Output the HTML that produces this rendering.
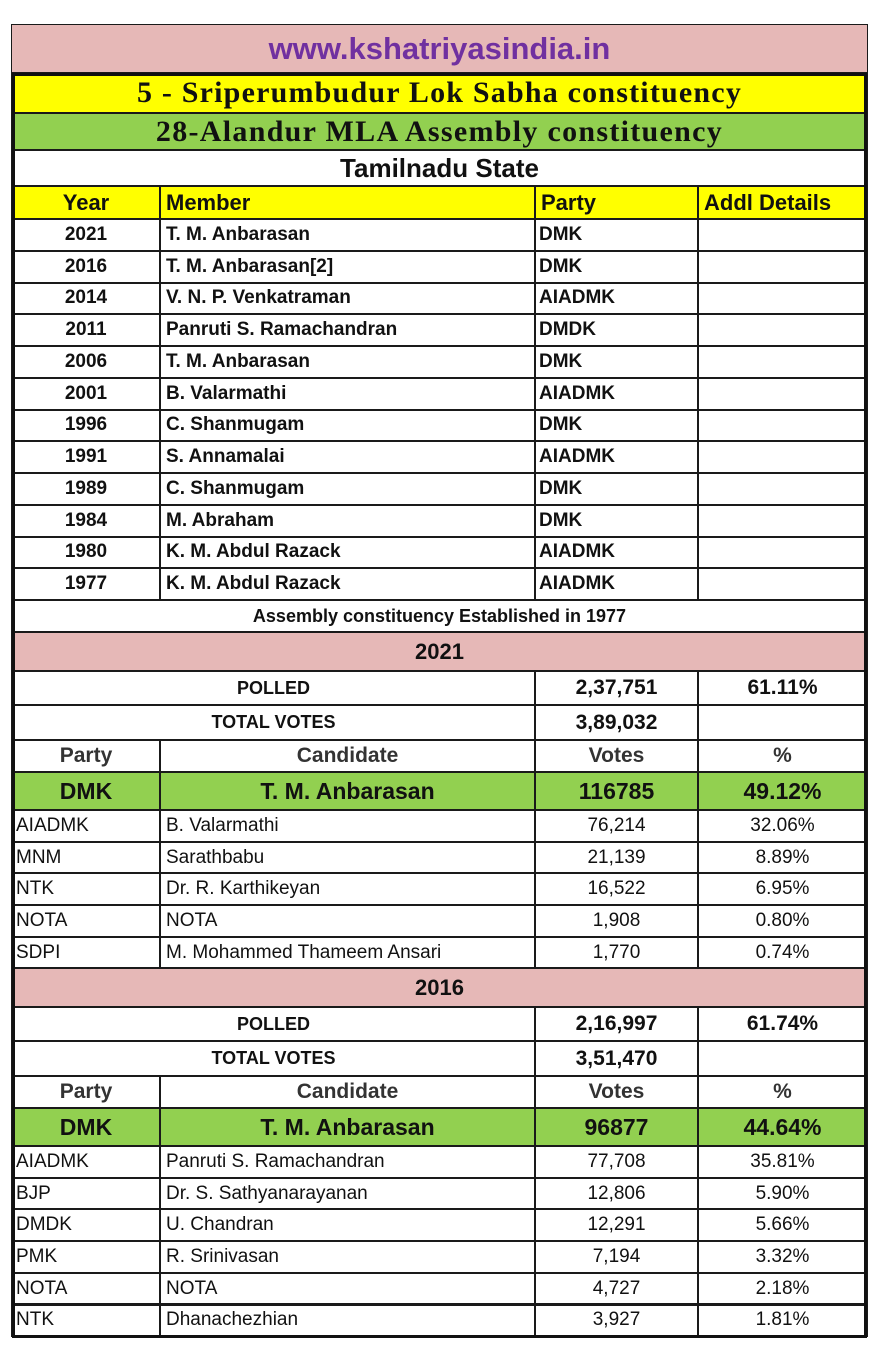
<!DOCTYPE html>
<html><head><meta charset="utf-8"><style>
body{margin:0;width:877px;height:1353px;background:#fff;position:relative;overflow:hidden;font-family:"Liberation Sans",sans-serif;}
.c{position:absolute;box-sizing:border-box;border:2px solid #1a1a1a;display:flex;align-items:center;white-space:nowrap;overflow:hidden;color:#111;}
</style></head><body>
<div id="frame" style="position:absolute;left:12px;top:73px;width:855px;height:1265px;border:3px solid #111;box-sizing:border-box;pointer-events:none;z-index:5"></div>
<script>
const X=[12,160,535,698,867];
const members=[["2021","T. M. Anbarasan","DMK"],["2016","T. M. Anbarasan[2]","DMK"],["2014","V. N. P. Venkatraman","AIADMK"],["2011","Panruti S. Ramachandran","DMDK"],["2006","T. M. Anbarasan","DMK"],["2001","B. Valarmathi","AIADMK"],["1996","C. Shanmugam","DMK"],["1991","S. Annamalai","AIADMK"],["1989","C. Shanmugam","DMK"],["1984","M. Abraham","DMK"],["1980","K. M. Abdul Razack","AIADMK"],["1977","K. M. Abdul Razack","AIADMK"]];
const res2021=[["AIADMK","B. Valarmathi","76,214","32.06%"],["MNM","Sarathbabu","21,139","8.89%"],["NTK","Dr. R. Karthikeyan","16,522","6.95%"],["NOTA","NOTA","1,908","0.80%"],["SDPI","M. Mohammed Thameem Ansari","1,770","0.74%"]];
const res2016=[["AIADMK","Panruti S. Ramachandran","77,708","35.81%"],["BJP","Dr. S. Sathyanarayanan","12,806","5.90%"],["DMDK","U. Chandran","12,291","5.66%"],["PMK","R. Srinivasan","7,194","3.32%"],["NOTA","NOTA","4,727","2.18%"],["NTK","Dhanachezhian","3,927","1.81%"]];
function cell(x0,x1,y0,y1,txt,st,name){
  const d=document.createElement('div');
  d.className='c';
  
  
  d.style.left=(x0-1)+'px';d.style.top=(y0-1)+'px';d.style.width=(x1-x0+2)+'px';d.style.height=(y1-y0+2)+'px';
  d.style.cssText+=st||'';
  d.textContent=txt;
  document.body.appendChild(d);
}
const CEN='justify-content:center;';
const L='padding-left:5px;';
cell(12,867,25,73,'www.kshatriyasindia.in',CEN+'background:#e6b8b7;color:#7030a0;font-weight:bold;font-size:31px;border-width:1px;','site-title');
cell(12,867,73,113,'5 - Sriperumbudur Lok Sabha constituency',CEN+'background:#ffff00;font-family:"Liberation Serif",serif;font-weight:bold;font-size:30px;letter-spacing:1.2px;','lok-sabha-title');
cell(12,867,113,150,'28-Alandur MLA Assembly constituency',CEN+'background:#92d050;font-family:"Liberation Serif",serif;font-weight:bold;font-size:30px;letter-spacing:1.3px;','assembly-title');
cell(12,867,150,186,'Tamilnadu State',CEN+'font-weight:bold;font-size:26px;','state-title');
const hs='background:#ffff00;font-weight:bold;font-size:22px;';
cell(X[0],X[1],186,219,'Year',CEN+hs,'year-header');
cell(X[1],X[2],186,219,'Member',L+hs,'member-header');
cell(X[2],X[3],186,219,'Party',L+hs,'party-header');
cell(X[3],X[4],186,219,'Addl Details',L+hs,'details-header');
members.forEach((m,i)=>{
  const y0=219+i*31.75,y1=y0+31.75;
  const s='font-weight:bold;font-size:19px;';
  cell(X[0],X[1],y0,y1,m[0],CEN+s,'member-year');
  cell(X[1],X[2],y0,y1,m[1],L+s,'member-name');
  cell(X[2],X[3],y0,y1,m[2],'padding-left:3px;'+s,'member-party');
  cell(X[3],X[4],y0,y1,'',s,'member-details');
});
cell(12,867,600,632,'Assembly constituency Established in 1977',CEN+'font-weight:bold;font-size:18px;','established-note');
function section(y,year,polled,pct,total,win,wv,wp,rows,nm){
  cell(12,867,y,y+39,year,CEN+'background:#e6b8b7;font-weight:bold;font-size:22px;',nm+'-year-header');
  const b='font-weight:bold;font-size:21px;';
  cell(12,535,y+39,y+73,'POLLED',CEN+'font-weight:bold;font-size:18px;',nm+'-polled-label');
  cell(535,698,y+39,y+73,polled,CEN+b,nm+'-polled-value');
  cell(698,867,y+39,y+73,pct,CEN+b,nm+'-polled-pct');
  cell(12,535,y+73,y+108,'TOTAL VOTES',CEN+'font-weight:bold;font-size:18px;',nm+'-total-label');
  cell(535,698,y+73,y+108,total,CEN+b,nm+'-total-value');
  cell(698,867,y+73,y+108,'',b,nm+'-total-blank');
  const h='font-weight:bold;font-size:21px;color:#333;';
  cell(X[0],X[1],y+108,y+140,'Party',CEN+h,nm+'-party-col');
  cell(X[1],X[2],y+108,y+140,'Candidate',CEN+h,nm+'-candidate-col');
  cell(X[2],X[3],y+108,y+140,'Votes',CEN+h,nm+'-votes-col');
  cell(X[3],X[4],y+108,y+140,'%',CEN+h,nm+'-pct-col');
  const g='background:#92d050;font-weight:bold;font-size:23px;';
  cell(X[0],X[1],y+140,y+178,'DMK',CEN+g,nm+'-winner-party');
  cell(X[1],X[2],y+140,y+178,win,CEN+g,nm+'-winner-name');
  cell(X[2],X[3],y+140,y+178,wv,CEN+g,nm+'-winner-votes');
  cell(X[3],X[4],y+140,y+178,wp,CEN+g,nm+'-winner-pct');
  rows.forEach((r,i)=>{
    const y0=y+178+i*31.7,y1=y0+31.7;
    const s='font-size:19px;';
    cell(X[0],X[1],y0,y1,r[0],'padding-left:3px;'+s,nm+'-row-party');
    cell(X[1],X[2],y0,y1,r[1],L+s,nm+'-row-candidate');
    cell(X[2],X[3],y0,y1,r[2],CEN+s,nm+'-row-votes');
    cell(X[3],X[4],y0,y1,r[3],CEN+s,nm+'-row-pct');
  });
}
section(632,'2021','2,37,751','61.11%','3,89,032','T. M. Anbarasan','116785','49.12%',res2021,'result-2021');
section(968,'2016','2,16,997','61.74%','3,51,470','T. M. Anbarasan','96877','44.64%',res2016,'result-2016');
</script>
</body></html>
